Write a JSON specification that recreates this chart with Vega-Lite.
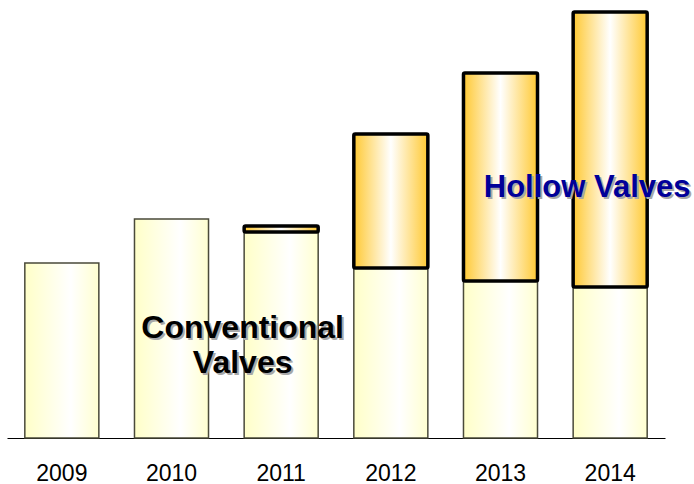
{
  "$schema": "https://vega.github.io/schema/vega-lite/v6.json",
  "autosize": {"type": "none"},
  "width": 658,
  "height": 426,
  "padding": {"left": 7, "top": 12, "right": 29, "bottom": 46},
  "background": "white",
  "config": {"view": {"stroke": null}},
  "datasets": {
    "bars": [
      {"year": "2009", "type": "Conventional", "value": 175},
      {"year": "2010", "type": "Conventional", "value": 219},
      {"year": "2011", "type": "Conventional", "value": 206},
      {"year": "2011", "type": "Hollow", "value": 6},
      {"year": "2012", "type": "Conventional", "value": 170},
      {"year": "2012", "type": "Hollow", "value": 134},
      {"year": "2013", "type": "Conventional", "value": 157},
      {"year": "2013", "type": "Hollow", "value": 208},
      {"year": "2014", "type": "Conventional", "value": 151},
      {"year": "2014", "type": "Hollow", "value": 275}
    ],
    "labels": [
      {"year": "2011", "v": 100, "text": "Conventional", "kind": "conv"},
      {"year": "2011", "v": 65, "text": "Valves", "kind": "conv"},
      {"year": "2014", "v": 241, "text": "Hollow Valves", "kind": "hollow"}
    ]
  },
  "encoding": {
    "x": {
      "field": "year",
      "type": "ordinal",
      "scale": {"domain": ["2009", "2010", "2011", "2012", "2013", "2014"], "paddingInner": 0.325, "paddingOuter": 0.1625},
      "axis": {
        "title": null,
        "domainColor": "black",
        "domainWidth": 1,
        "ticks": false,
        "tickSize": 0,
        "labelAngle": 0,
        "labelFont": "Liberation Sans",
        "labelFontSize": 23,
        "labelColor": "black",
        "labelBaseline": "alphabetic",
        "labelPadding": 42
      }
    }
  },
  "layer": [
    {
      "data": {"name": "bars"},
      "transform": [
        {"stack": "value", "groupby": ["year"], "sort": [{"field": "type", "order": "ascending"}], "as": ["v0", "v1"]},
        {"filter": "datum.type === 'Conventional'"}
      ],
      "mark": {
        "type": "bar",
        "stroke": "#4A4A3A",
        "strokeWidth": 1.5,
        "fill": {"gradient": "linear", "x1": 0, "y1": 0, "x2": 1, "y2": 0,
          "stops": [{"offset": 0, "color": "#FFFFC8"}, {"offset": 0.62, "color": "#FFFFFF"}, {"offset": 1, "color": "#FFFFD0"}]}
      },
      "encoding": {
        "y": {"field": "v0", "type": "quantitative", "scale": {"domain": [0, 426], "nice": false, "zero": true}, "axis": null},
        "y2": {"field": "v1"}
      }
    },
    {
      "data": {"name": "bars"},
      "transform": [
        {"stack": "value", "groupby": ["year"], "sort": [{"field": "type", "order": "ascending"}], "as": ["v0", "v1"]},
        {"filter": "datum.type === 'Hollow'"}
      ],
      "mark": {
        "type": "bar",
        "stroke": "black",
        "strokeWidth": 3.5,
        "cornerRadius": 1.5,
        "fill": {"gradient": "linear", "x1": 0, "y1": 0, "x2": 1, "y2": 0,
          "stops": [{"offset": 0, "color": "#FFC933"}, {"offset": 0.5, "color": "#FFFFFF"}, {"offset": 1, "color": "#FFC933"}]}
      },
      "encoding": {
        "y": {"field": "v0", "type": "quantitative"},
        "y2": {"field": "v1"}
      }
    },
    {
      "data": {"name": "labels"},
      "transform": [{"filter": "datum.kind === 'conv'"}],
      "mark": {"type": "text", "font": "Liberation Sans", "fontWeight": "bold", "fontSize": 32, "color": "#A8A8A8", "baseline": "alphabetic", "align": "center", "dx": -36.5, "dy": 2},
      "encoding": {"y": {"field": "v", "type": "quantitative"}, "text": {"field": "text"}}
    },
    {
      "data": {"name": "labels"},
      "transform": [{"filter": "datum.kind === 'conv'"}],
      "mark": {"type": "text", "font": "Liberation Sans", "fontWeight": "bold", "fontSize": 32, "color": "black", "baseline": "alphabetic", "align": "center", "dx": -38.5},
      "encoding": {"y": {"field": "v", "type": "quantitative"}, "text": {"field": "text"}}
    },
    {
      "data": {"name": "labels"},
      "transform": [{"filter": "datum.kind === 'hollow'"}],
      "mark": {"type": "text", "font": "Liberation Sans", "fontWeight": "bold", "fontSize": 31, "color": "#A8A8A8", "baseline": "alphabetic", "align": "center", "dx": -21, "dy": 2},
      "encoding": {"y": {"field": "v", "type": "quantitative"}, "text": {"field": "text"}}
    },
    {
      "data": {"name": "labels"},
      "transform": [{"filter": "datum.kind === 'hollow'"}],
      "mark": {"type": "text", "font": "Liberation Sans", "fontWeight": "bold", "fontSize": 31, "color": "#000099", "baseline": "alphabetic", "align": "center", "dx": -23},
      "encoding": {"y": {"field": "v", "type": "quantitative"}, "text": {"field": "text"}}
    }
  ]
}
